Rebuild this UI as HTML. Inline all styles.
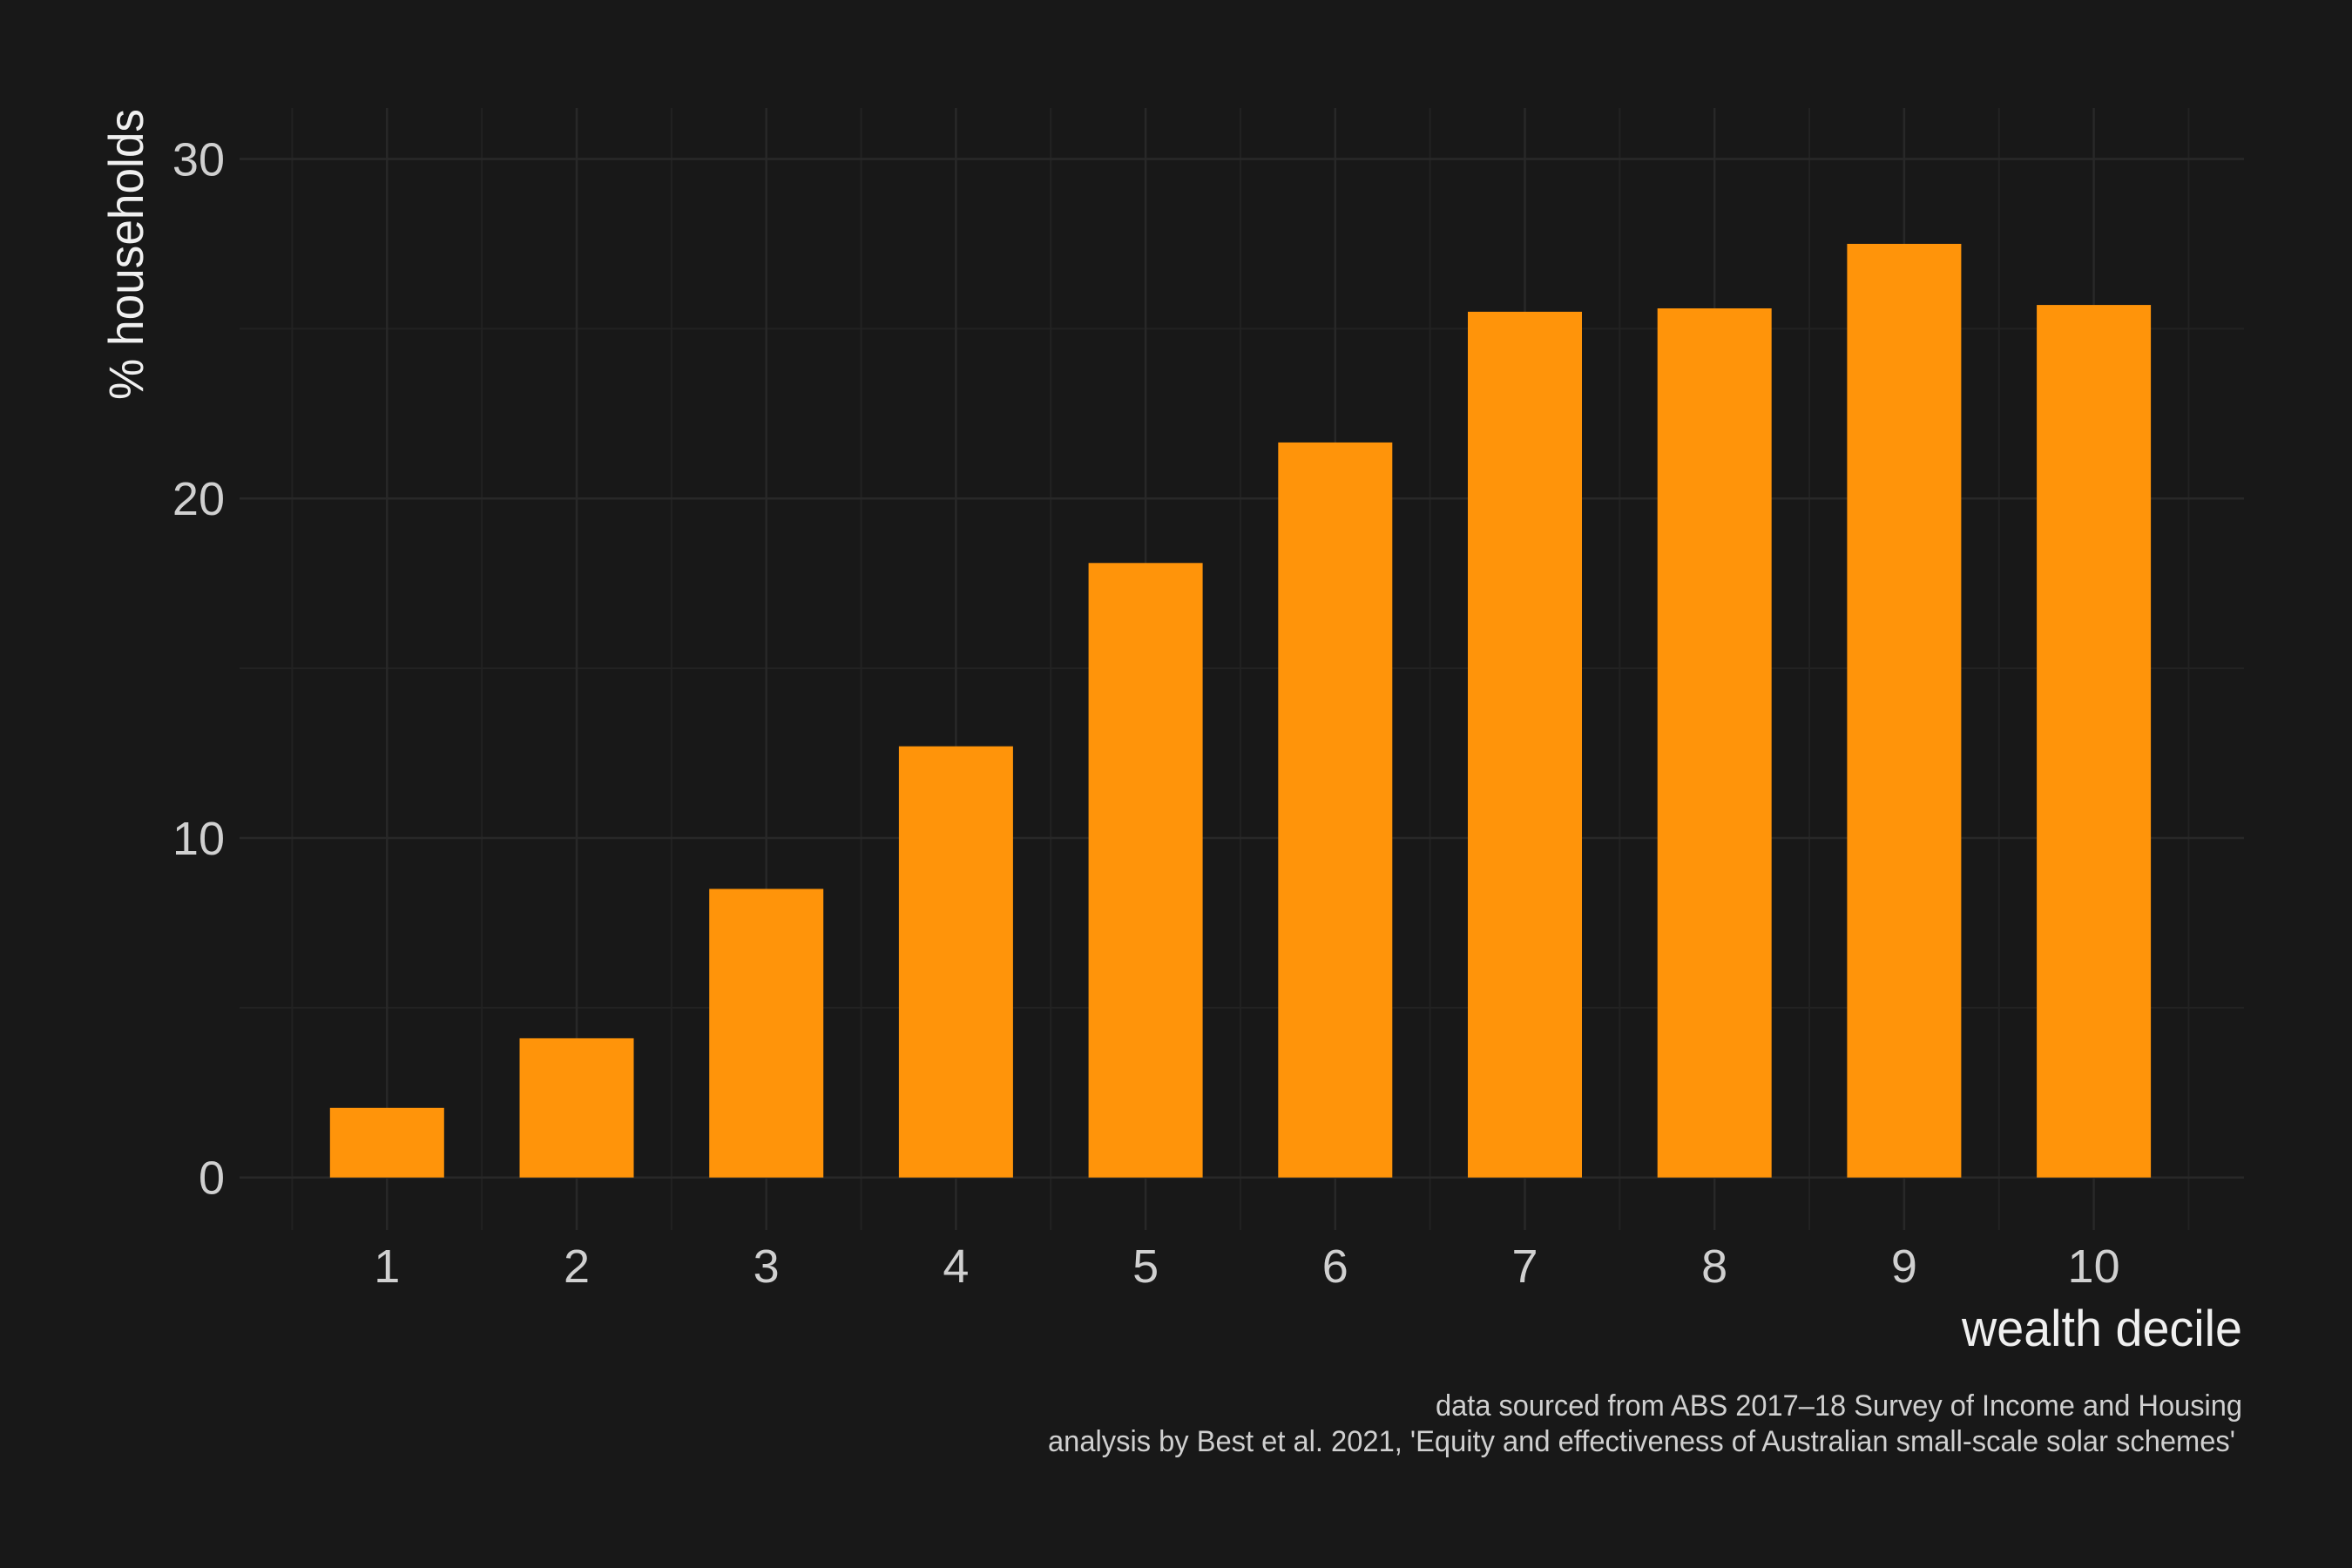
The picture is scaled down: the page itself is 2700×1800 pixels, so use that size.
<!DOCTYPE html>
<html><head><meta charset="utf-8"><style>
html,body{margin:0;padding:0;background:#181818;}
svg{display:block;font-family:"Liberation Sans",sans-serif;}
</style></head><body>
<svg id="chart" width="2700" height="1800" viewBox="0 0 2700 1800">
<rect x="0" y="0" width="2700" height="1800" fill="#181818"/>
<g id="grid"></g>
<g id="bars"></g>
<g id="ticks"></g>
<text x="2574" y="1545" text-anchor="end" font-size="58" fill="#f0f0f0" textLength="322" lengthAdjust="spacingAndGlyphs">wealth decile</text>
<text transform="translate(164,292) rotate(-90)" text-anchor="middle" font-size="56" fill="#f0f0f0" textLength="334" lengthAdjust="spacingAndGlyphs">% households</text>
<text x="2574" y="1625" text-anchor="end" font-size="34" fill="#d0d0d0" textLength="926" lengthAdjust="spacingAndGlyphs">data sourced from ABS 2017–18 Survey of Income and Housing</text>
<text x="2566" y="1666" text-anchor="end" font-size="34" fill="#d0d0d0" textLength="1363" lengthAdjust="spacingAndGlyphs">analysis by Best et al. 2021, 'Equity and effectiveness of Australian small-scale solar schemes'</text>
</svg>
<script>
const categories = ["1","2","3","4","5","6","7","8","9","10"];
const values = [2.05, 4.1, 8.5, 12.7, 18.1, 21.65, 25.5, 25.6, 27.5, 25.7];
const yTicks = [0, 10, 20, 30];
const yMinor = [5, 15, 25];

const NS = "http://www.w3.org/2000/svg";
const plotLeft = 275, plotRight = 2576, plotTop = 124, plotBottom = 1412;
const x0 = 444.3, step = 217.7, barW = 131;
function xScale(i){ return x0 + i*step; }
function yScale(v){ return 1351.7 - v*(1351.7-182.5)/30; }
function mk(tag, attrs, parent){ const e=document.createElementNS(NS,tag); for(const k in attrs) e.setAttribute(k,attrs[k]); parent.appendChild(e); return e; }
const grid=document.getElementById('grid'), bars=document.getElementById('bars'), ticks=document.getElementById('ticks');
yMinor.forEach(v=>{ const l=mk('line',{x1:plotLeft,x2:plotRight,y1:yScale(v),y2:yScale(v),stroke:'#222222','stroke-width':2},grid);

 });
categories.forEach((c,i)=>{ const xm=xScale(i)-step/2; const l=mk('line',{x1:xm,x2:xm,y1:plotTop,y2:plotBottom,stroke:'#222222','stroke-width':2},grid);

 });
{ const xm=xScale(categories.length-1)+step/2; const l=mk('line',{x1:xm,x2:xm,y1:plotTop,y2:plotBottom,stroke:'#222222','stroke-width':2},grid);

 }
yTicks.forEach(v=>{ const l=mk('line',{x1:plotLeft,x2:plotRight,y1:yScale(v),y2:yScale(v),stroke:'#282828','stroke-width':2.5},grid);


const t=mk('text',{x:258,y:yScale(v)+19,'text-anchor':'end','font-size':54,fill:'#d0d0d0'},ticks); t.textContent=v;

 });
categories.forEach((c,i)=>{ const l=mk('line',{x1:xScale(i),x2:xScale(i),y1:plotTop,y2:plotBottom,stroke:'#282828','stroke-width':2.5},grid);


const r=mk('rect',{x:xScale(i)-barW/2,y:yScale(values[i]),width:barW,height:yScale(0)-yScale(values[i]),fill:'#ff940a'},bars);


const t=mk('text',{x:xScale(i),y:1472,'text-anchor':'middle','font-size':54,fill:'#d0d0d0'},ticks); t.textContent=c;

 });
</script>
</body></html>
